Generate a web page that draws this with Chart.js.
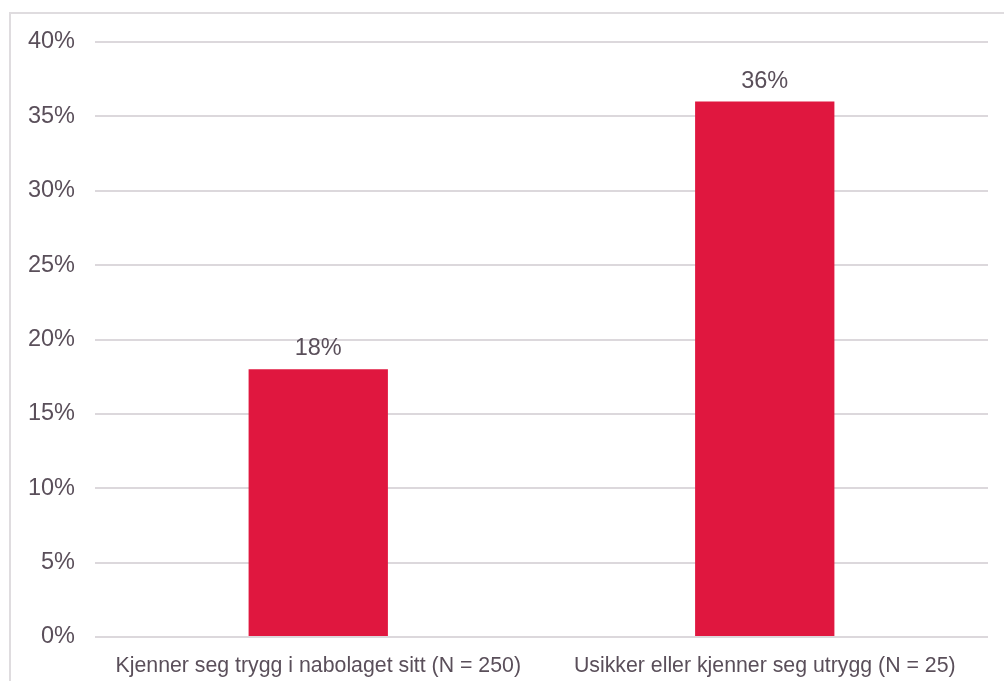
<html>
<head>
<script src="https://cdn.jsdelivr.net/npm/chart.js@4/dist/chart.umd.min.js"></script>
<style>
  body { margin: 0; overflow: hidden; background: #fff; }
  #frame { position: absolute; left: 9px; top: 12px; width: 1100px; height: 800px; border: 2px solid #dfdcdf; }
  #wrap { position: absolute; left: 0; top: 0; width: 1004px; height: 681px; }
</style>
</head>
<body>
<div id="frame"></div>
<div id="wrap"><canvas id="chart"></canvas></div>
<script>
const categories = ['Kjenner seg trygg i nabolaget sitt (N = 250)', 'Usikker eller kjenner seg utrygg (N = 25)']
const shares = [18, 36]
const yTicks = [0, 5, 10, 15, 20, 25, 30, 35, 40]

const textColor = '#5a4f5a'
const font = 'Liberation Sans, Arial, sans-serif'

const barLabels = {
    id: 'barLabels',
    afterDatasetsDraw(chart) {
        const ctx = chart.ctx
        ctx.save()
        ctx.fillStyle = textColor
        ctx.font = '23.5px ' + font
        ctx.textAlign = 'center'
        ctx.textBaseline = 'alphabetic'
        chart.getDatasetMeta(0).data.forEach((bar, i) => {
            ctx.fillText(shares[i] + '%', bar.x, bar.y - 14)
        })
        ctx.restore()
    }
}

new Chart(document.getElementById('chart'), {
    type: 'bar',
    data: {
        labels: categories,
        datasets: [{
            data: shares,
            backgroundColor: '#e0173f',
            categoryPercentage: 1,
            barPercentage: 0.312
        }]
    },
    options: {
        responsive: true,
        maintainAspectRatio: false,
        animation: false,
        layout: { padding: { top: 42, right: 16, left: 0, bottom: 0 } },
        plugins: { legend: { display: false }, tooltip: { enabled: false } },
        scales: {
            x: {
                grid: { display: false },
                border: { display: false },
                ticks: { color: textColor, font: { family: font, size: 21.3 }, padding: 8, maxRotation: 0, autoSkip: false },
                afterFit: (axis) => { axis.height = 44 }
            },
            y: {
                min: 0,
                max: 40,
                afterBuildTicks: (axis) => { axis.ticks = yTicks.map(v => ({ value: v })) },
                grid: { color: '#dcd8dc', lineWidth: 2, drawTicks: false },
                border: { display: false },
                ticks: { color: textColor, font: { family: font, size: 23.5 }, padding: 20, callback: v => v + '%' },
                afterFit: (axis) => { axis.width = 95 }
            }
        }
    },
    plugins: [barLabels]
})
</script>
</body>
</html>
